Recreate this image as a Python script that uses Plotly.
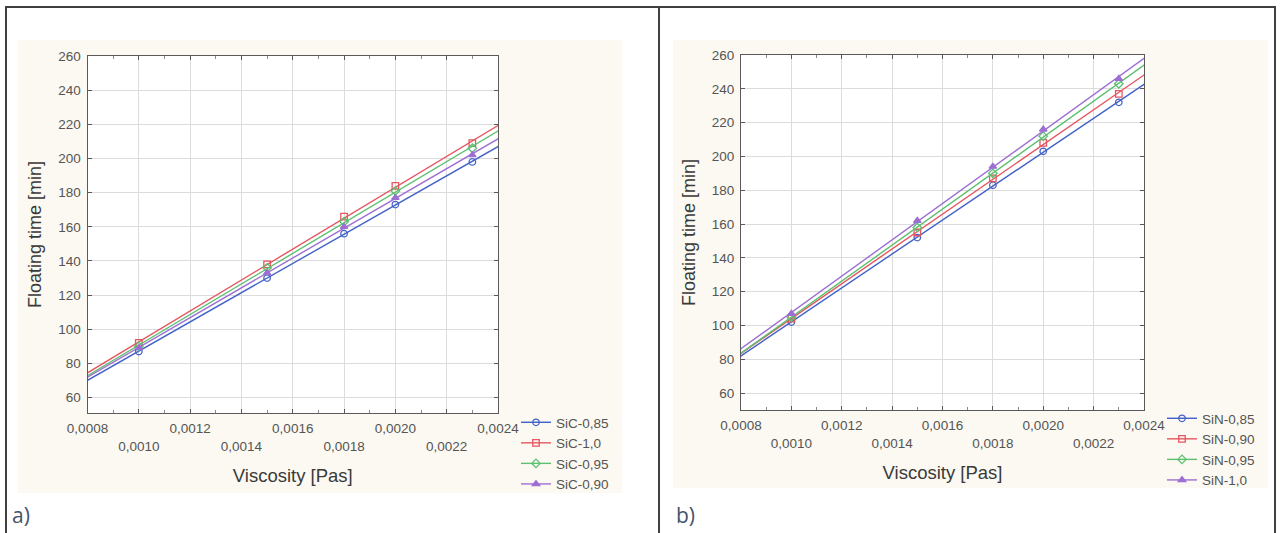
import numpy as np
import plotly.graph_objects as go

# ---------------- data ----------------
VISCOSITY = [0.0010, 0.0015, 0.0018, 0.0020, 0.0023]

SIC_NAMES = ["SiC-0,85", "SiC-1,0", "SiC-0,95", "SiC-0,90"]
SIC_085 = [87, 130, 156, 173, 198]
SIC_10 = [92, 138, 166, 184, 209]
SIC_095 = [90, 136, 163, 181, 206]
SIC_090 = [89, 133, 160, 177, 202]

SIN_NAMES = ["SiN-0,85", "SiN-0,90", "SiN-0,95", "SiN-1,0"]
SIN_085 = [102, 152, 183, 203, 232]
SIN_090 = [104, 155, 187, 208, 237]
SIN_095 = [105, 158, 190, 212, 243]
SIN_10 = [107, 162, 194, 216, 246]

X_TICKS = [0.0008, 0.0010, 0.0012, 0.0014, 0.0016, 0.0018, 0.0020, 0.0022, 0.0024]
X_TICK_LABELS = ["0,0008", "0,0010", "0,0012", "0,0014", "0,0016",
                 "0,0018", "0,0020", "0,0022", "0,0024"]
Y_TICKS = [60, 80, 100, 120, 140, 160, 180, 200, 220, 240, 260]
PANEL_LABELS = ["a)", "b)"]

# ---------------- style ----------------
W, H = 1281, 533
COLORS = ["#4262c8", "#e5565f", "#5cc070", "#9d6fd2"]
SYMBOLS = ["circle-open", "square-open", "diamond-open", "triangle-up"]
FONT = "Liberation Sans, Arial, sans-serif"
X_RANGE = [0.0008, 0.0024]
CREAM = "#fbf9f1"


def px(x):
    return x / W


def py(y):
    return 1 - y / H


fig = go.Figure()

panels = [
    dict(series=[SIC_085, SIC_10, SIC_095, SIC_090], names=SIC_NAMES,
         xa="x", ya="y", legend="legend",
         xdom=[px(87.5), px(498)], ydom=[py(413), py(56)], yr=[51, 260]),
    dict(series=[SIN_085, SIN_090, SIN_095, SIN_10], names=SIN_NAMES,
         xa="x2", ya="y2", legend="legend2",
         xdom=[px(741), px(1144)], ydom=[py(410), py(55)], yr=[50, 260]),
]

pad = 0.0002
for p in panels:
    for i, (vals, name) in enumerate(zip(p["series"], p["names"])):
        slope, icpt = np.polyfit(VISCOSITY, vals, 1)
        xf = np.array([X_RANGE[0] - pad, X_RANGE[1] + pad])
        # fitted line (its end markers fall outside the axes and are clipped; they only show in the legend)
        fig.add_trace(go.Scatter(
            x=xf, y=slope * xf + icpt, mode="lines+markers", name=name,
            xaxis=p["xa"], yaxis=p["ya"], legend=p["legend"],
            line=dict(color=COLORS[i], width=1.4),
            marker=dict(symbol=SYMBOLS[i], size=6.5, color=COLORS[i],
                        line=dict(width=1.3, color=COLORS[i])),
            cliponaxis=True, hoverinfo="skip"))
        # measured points
        fig.add_trace(go.Scatter(
            x=VISCOSITY, y=vals, mode="markers", name=name, showlegend=False,
            xaxis=p["xa"], yaxis=p["ya"],
            marker=dict(symbol=SYMBOLS[i], size=6.5, color=COLORS[i],
                        line=dict(width=1.3, color=COLORS[i]))))

ticktext = [t if k % 2 == 0 else "<br>" + t for k, t in enumerate(X_TICK_LABELS)]

axis_common = dict(showline=True, linecolor="#5a5a5a", linewidth=1.2, mirror="allticks",
                   ticks="inside", ticklen=4, tickcolor="#5a5a5a", automargin=False,
                   showgrid=True, gridcolor="#dcdcdc", gridwidth=1, zeroline=False)

for k, p in enumerate(panels):
    sfx = "" if k == 0 else "2"
    fig.layout["xaxis" + sfx] = dict(
        axis_common, domain=p["xdom"], range=X_RANGE, anchor="y" + sfx,
        tickvals=X_TICKS, ticktext=ticktext,
        minor=dict(ticks="inside", ticklen=2.5, dtick=0.0001, tick0=0.0008,
                   tickcolor="#8a8a8a", showgrid=False),
        tickfont=dict(family=FONT, size=13.5, color="#555555"),
        ticklabelstandoff=3,
        title=dict(text="Viscosity [Pas]", font=dict(family=FONT, size=18.5, color="#3a3a3a"),
                   standoff=16))
    fig.layout["yaxis" + sfx] = dict(
        axis_common, domain=p["ydom"], range=p["yr"], anchor="x" + sfx,
        tickvals=Y_TICKS, ticktext=[str(v) for v in Y_TICKS],
        tickfont=dict(family=FONT, size=13.5, color="#555555"),
        ticklabelstandoff=3,
        title=dict(text="Floating time [min]", font=dict(family=FONT, size=18, color="#3a3a3a"),
                   standoff=11))

legend_common = dict(bgcolor="rgba(0,0,0,0)", font=dict(family=FONT, size=13.5, color="#555555"),
                     tracegroupgap=0, itemwidth=30, xanchor="left", yanchor="top",
                     borderwidth=0)
fig.update_layout(
    width=W, height=H, margin=dict(l=0, r=0, t=0, b=0, autoexpand=False),
    paper_bgcolor="white", plot_bgcolor="white",
    legend=dict(legend_common, x=px(516), y=py(407)),
    legend2=dict(legend_common, x=px(1162), y=py(403)),
    hovermode=False,
)

# cream chart backgrounds, white plot areas and the table frame
shapes = [
    dict(type="rect", xref="paper", yref="paper", x0=px(18), x1=px(622), y0=py(493), y1=py(40),
         fillcolor=CREAM, line=dict(width=0), layer="below"),
    dict(type="rect", xref="paper", yref="paper", x0=px(673), x1=px(1268), y0=py(488), y1=py(40),
         fillcolor=CREAM, line=dict(width=0), layer="below"),
    dict(type="rect", xref="x domain", yref="y domain", x0=0, x1=1, y0=0, y1=1,
         fillcolor="white", line=dict(width=0), layer="below"),
    dict(type="rect", xref="x2 domain", yref="y2 domain", x0=0, x1=1, y0=0, y1=1,
         fillcolor="white", line=dict(width=0), layer="below"),
    dict(type="line", xref="paper", yref="paper", x0=px(5), x1=px(1276), y0=py(7), y1=py(7),
         line=dict(color="#404040", width=2)),
    dict(type="line", xref="paper", yref="paper", x0=px(6), x1=px(6), y0=py(7), y1=py(533),
         line=dict(color="#404040", width=2)),
    dict(type="line", xref="paper", yref="paper", x0=px(659), x1=px(659), y0=py(7), y1=py(533),
         line=dict(color="#404040", width=2)),
    dict(type="line", xref="paper", yref="paper", x0=px(1275), x1=px(1275), y0=py(7), y1=py(533),
         line=dict(color="#404040", width=2)),
]
fig.update_layout(shapes=shapes)

for lab, xpos in zip(PANEL_LABELS, [10, 674]):
    fig.add_annotation(text=lab, xref="paper", yref="paper", x=px(xpos), y=py(515),
                       xanchor="left", yanchor="middle", showarrow=False,
                       font=dict(family="Open Sans, Liberation Sans, sans-serif", size=21,
                                 color="#44546a"))

fig.write_html("out.html", config={"displayModeBar": False},
               post_script="document.body.style.margin='0px';document.body.style.overflow='hidden';")
